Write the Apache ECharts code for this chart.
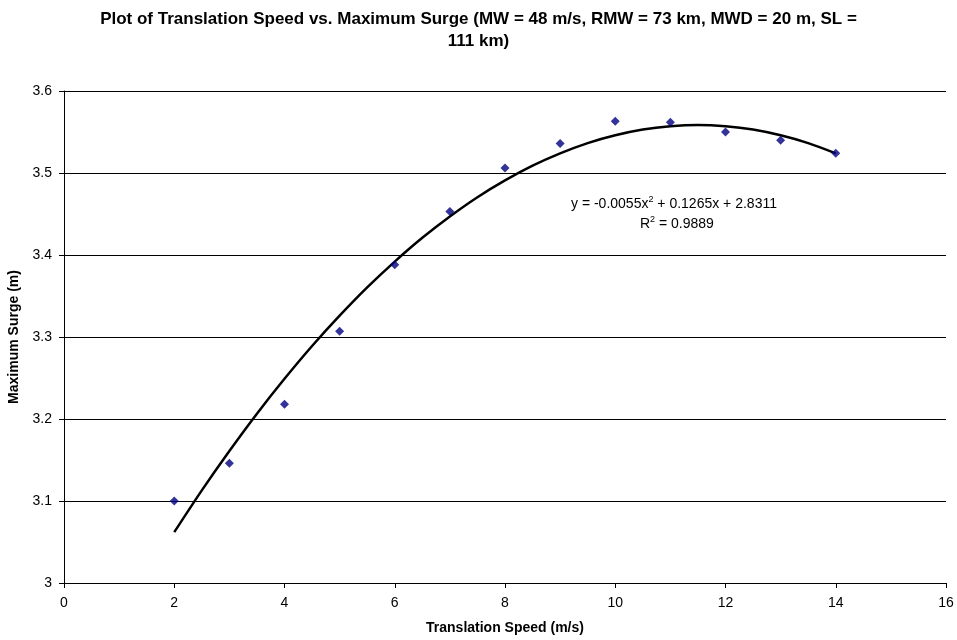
<!DOCTYPE html>
<html>
<head>
<meta charset="utf-8">
<script src="https://cdn.jsdelivr.net/npm/echarts@6/dist/echarts.min.js"></script>
<style>
html,body{margin:0;padding:0;background:#fff;}
#main{width:957px;height:640px;}
</style>
</head>
<body>
<div id="main"></div>
<script>
// measured points
var speeds = [2, 3, 4, 5, 6, 7, 8, 9, 10, 11, 12, 13, 14];
var surges = [3.100, 3.146, 3.218, 3.307, 3.388, 3.453, 3.506, 3.536, 3.563, 3.562, 3.550, 3.540, 3.524];
// polynomial trendline
var trendX = [2, 2.5, 3, 3.5, 4, 4.5, 5, 5.5, 6, 6.5, 7, 7.5, 8, 8.5, 9, 9.5, 10, 10.5, 11, 11.5, 12, 12.5, 13, 13.5, 14];
var trendY = [3.062, 3.113, 3.161, 3.2065, 3.249, 3.289, 3.326, 3.3605, 3.392, 3.421, 3.447, 3.4705, 3.491,
              3.509, 3.524, 3.5365, 3.546, 3.553, 3.557, 3.5585, 3.557, 3.553, 3.546, 3.5365, 3.524];
var xTicks = [0, 2, 4, 6, 8, 10, 12, 14, 16];
var yTicks = [3, 3.1, 3.2, 3.3, 3.4, 3.5, 3.6];

var font = 'Liberation Sans, Arial, sans-serif';
var myChart = echarts.init(document.getElementById('main'));

function pairs(xs, ys) {
    var res = [];
    for (var i = 0; i < xs.length; i++) {
        res.push([xs[i], ys[i]]);
    }
    return res;
}

var option = {
    animation: false,
    backgroundColor: '#fff',
    title: {
        text: 'Plot of Translation Speed vs. Maximum Surge (MW = 48 m/s, RMW = 73 km, MWD = 20 m, SL =\n111 km)',
        left: 'center',
        top: 3,
        textStyle: {
            fontFamily: font,
            fontSize: 17,
            fontWeight: 'bold',
            color: '#000',
            lineHeight: 22
        }
    },
    grid: {
        left: 64,
        right: 11,
        top: 91,
        bottom: 57,
        outerBoundsMode: 'none'
    },
    xAxis: {
        type: 'value',
        min: xTicks[0],
        max: xTicks[xTicks.length - 1],
        interval: 2,
        name: 'Translation Speed (m/s)',
        nameLocation: 'middle',
        nameGap: 38,
        nameTextStyle: { fontFamily: font, fontSize: 14, fontWeight: 'bold', color: '#000' },
        axisLine: { lineStyle: { color: '#000', width: 1 } },
        axisTick: { show: true, length: 5, inside: false, lineStyle: { color: '#000' } },
        axisLabel: { fontFamily: font, fontSize: 14, color: '#000', margin: 13 },
        splitLine: { show: false }
    },
    yAxis: {
        type: 'value',
        min: yTicks[0],
        max: yTicks[yTicks.length - 1],
        interval: 0.1,
        name: 'Maximum Surge (m)',
        nameLocation: 'middle',
        nameGap: 39,
        nameTextStyle: { fontFamily: font, fontSize: 14, fontWeight: 'bold', color: '#000' },
        axisLine: { show: true, lineStyle: { color: '#000', width: 1 } },
        axisTick: { show: true, length: 5, lineStyle: { color: '#000' } },
        axisLabel: {
            fontFamily: font, fontSize: 14, color: '#000', margin: 12,
            formatter: function (v) { return String(Math.round(v * 10) / 10); }
        },
        splitLine: { show: true, lineStyle: { color: '#000', width: 1 } }
    },
    series: [
        {
            name: 'Trend',
            type: 'line',
            data: pairs(trendX, trendY),
            smooth: 0.3,
            symbol: 'none',
            lineStyle: { color: '#000', width: 2.5 },
            z: 2
        },
        {
            name: 'Maximum Surge',
            type: 'scatter',
            data: pairs(speeds, surges),
            symbol: 'diamond',
            symbolSize: 9,
            itemStyle: { color: '#000080' },
            z: 3
        }
    ],
    graphic: [
        {
            type: 'text',
            left: 571,
            top: 195,
            style: {
                text: '{t|y = -0.0055x}{s|2}{t| + 0.1265x + 2.8311}',
                rich: {
                    t: { fontFamily: font, fontSize: 14, color: '#000', verticalAlign: 'bottom' },
                    s: { fontFamily: font, fontSize: 9, color: '#000', verticalAlign: 'bottom', padding: [0, 0, 7, 0] }
                }
            }
        },
        {
            type: 'text',
            left: 640,
            top: 215,
            style: {
                text: '{t|R}{s|2}{t| = 0.9889}',
                rich: {
                    t: { fontFamily: font, fontSize: 14, color: '#000', verticalAlign: 'bottom' },
                    s: { fontFamily: font, fontSize: 9, color: '#000', verticalAlign: 'bottom', padding: [0, 0, 7, 0] }
                }
            }
        }
    ]
};

myChart.setOption(option);
</script>
</body>
</html>
